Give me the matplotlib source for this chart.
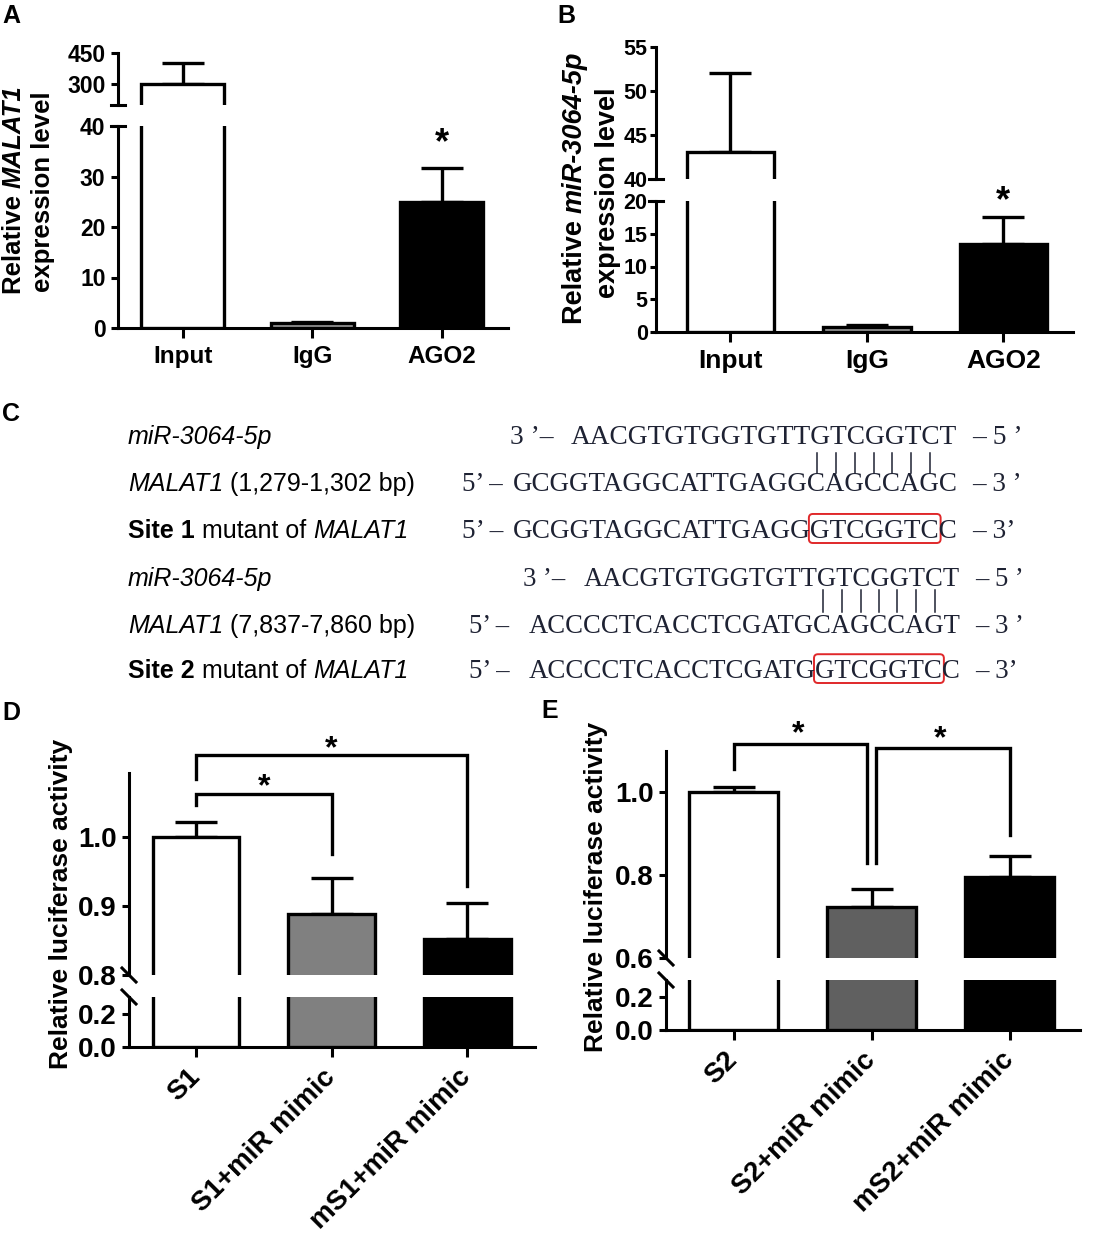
import matplotlib
matplotlib.use('Agg')
import matplotlib.pyplot as plt
import numpy as np
from matplotlib.font_manager import FontProperties
from matplotlib.patches import FancyBboxPatch

W, H = 1099, 1233
plt.rcParams['font.family'] = ['Liberation Sans', 'DejaVu Sans']
plt.rcParams['font.weight'] = 'bold'
plt.rcParams['axes.linewidth'] = 2.2
plt.rcParams['xtick.major.width'] = 2.2
plt.rcParams['ytick.major.width'] = 2.2

# ---- data ----
groups_ab = ['Input', 'IgG', 'AGO2']
malat1_vals = [300, 1.0, 25.0]
malat1_err = [100, 0.2, 6.7]
mir_vals = [43.1, 0.8, 13.5]
mir_err = [9.0, 0.2, 4.1]

groups_d = ['S1', 'S1+miR mimic', 'mS1+miR mimic']
luc_d = [1.0, 0.889, 0.852]
luc_d_err = [0.022, 0.051, 0.053]
groups_e = ['S2', 'S2+miR mimic', 'mS2+miR mimic']
luc_e = [1.0, 0.722, 0.795]
luc_e_err = [0.012, 0.044, 0.051]

mir_seq = 'AACGTGTGGTGTTGTCGGTCT'
site1_wt = 'GCGGTAGGCATTGAGGCAGCCAGC'
site1_mut = 'GCGGTAGGCATTGAGGGTCGGTCC'
site2_wt = 'ACCCCTCACCTCGATGCAGCCAGT'
site2_mut = 'ACCCCTCACCTCGATGGTCGGTCC'
pair_idx = list(range(16, 23))  # bases of MALAT1 paired with the seed

fig = plt.figure(figsize=(W/100, H/100), dpi=100)
bg = fig.add_axes([0, 0, 1, 1], zorder=-1)
bg.set_xlim(0, W)
bg.set_ylim(H, 0)
bg.axis('off')
R = fig.canvas.get_renderer()


def box(x0, y0, x1, y1):
    return fig.add_axes([x0/W, 1-y1/H, (x1-x0)/W, (y1-y0)/H])


def fp(size, weight='normal', style='normal', family='Liberation Sans'):
    return dict(fontsize=size, fontweight=weight, fontstyle=style, family=family)


def width(s, p):
    f = FontProperties(family=p['family'], size=p['fontsize'],
                       weight=p['fontweight'], style=p['fontstyle'])
    a = R.get_text_width_height_descent(s + '|', f, ismath=False)[0]
    b = R.get_text_width_height_descent('|', f, ismath=False)[0]
    return a - b


def rich(x, y, pieces, rot=False, center=False, color='k'):
    total = sum(width(s, p) for s, p in pieces)
    if rot:
        pos = y + total/2 if center else y
    else:
        pos = x - total/2 if center else x
    for s, p in pieces:
        if rot:
            bg.text(x, pos, s, rotation=90, rotation_mode='anchor', ha='left',
                    va='baseline', color=color, **p)
            pos -= width(s, p)
        else:
            bg.text(pos, y, s, ha='left', va='baseline', color=color, **p)
            pos += width(s, p)


def broken(x0, x1, hi_px, lo_px, hi_lim, lo_lim, hi_ticks, lo_ticks, xlim,
           vals, errs, colors, cap, tfs, fmt='{:g}', tlen=5, tpad=4):
    hi = box(x0, hi_px[0], x1, hi_px[1])
    lo = box(x0, lo_px[0], x1, lo_px[1])
    xs = np.arange(len(vals))
    for ax in (hi, lo):
        ax.bar(xs, vals, 0.64, color=colors, edgecolor='k', lw=2.4, zorder=3)
        ax.errorbar(xs, vals, yerr=[np.zeros(len(vals)), errs], fmt='none',
                    ecolor='k', elinewidth=2.4, capsize=cap, capthick=2.4, zorder=2)
        ax.set_xlim(*xlim)
        for s in ('top', 'right'):
            ax.spines[s].set_visible(False)
        ax.patch.set_visible(False)
        ax.tick_params(axis='y', length=tlen, pad=tpad, labelsize=tfs)
    hi.set_ylim(*hi_lim)
    lo.set_ylim(*lo_lim)
    hi.set_yticks(hi_ticks, [fmt.format(t) for t in hi_ticks])
    lo.set_yticks(lo_ticks, [fmt.format(t) for t in lo_ticks])
    hi.spines['bottom'].set_visible(False)
    hi.tick_params(axis='x', bottom=False, labelbottom=False)
    lo.tick_params(axis='x', length=7, pad=5)
    return hi, lo


def star(ax, x, y, fs):
    ax.annotate('*', (x, y), xytext=(0, -0.58*fs), textcoords='offset points',
                ha='center', va='baseline', fontsize=fs, fontweight='bold',
                annotation_clip=False)


def bracket(ax, xa, xb, ytop, ya, yb):
    ax.plot([xa, xa, xb, xb], [ya, ytop, ytop, yb], color='k', lw=2.4,
            clip_on=False, solid_joinstyle='miter')


def flat_break(x, ys):
    for y in ys:
        bg.plot([x-7, x+7], [y, y], color='k', lw=2.2)


def slash_break(x, ys):
    for y in ys:
        bg.plot([x-7, x+7], [y-7, y+7], color='k', lw=2.2)


# ---- panel A ----
hiA, loA = broken(118, 508, (53, 105), (126, 328), (200, 450), (0, 40),
                  [300, 450], [0, 10, 20, 30, 40], (-0.5, 2.51),
                  malat1_vals, malat1_err, ['white', '#9a9a9a', 'black'], 15, 16.5)
loA.set_xticks(range(3), groups_ab, fontsize=17.5)
flat_break(118, [105, 126])
star(loA, 2, 38.8, 26)
rich(21, 190, [('Relative ', fp(18.5, 'bold')), ('MALAT1', fp(18.5, 'bold', 'italic'))],
     rot=True, center=True)
rich(50, 192, [('expression level', fp(18.5, 'bold'))], rot=True, center=True)

# ---- panel B ----
hiB, loB = broken(656, 1073, (47, 179), (201, 332), (40, 55), (0, 20),
                  [40, 45, 50, 55], [0, 5, 10, 15, 20], (-0.545, 2.51),
                  mir_vals, mir_err, ['white', '#9a9a9a', 'black'], 15, 15.5,
                  tlen=4, tpad=2)
loB.set_xticks(range(3), groups_ab, fontsize=19)
flat_break(656, [179, 201])
star(loB, 2, 21.7, 26)
rich(582, 188, [('Relative ', fp(19.5, 'bold')), ('miR-3064-5p', fp(19.5, 'bold', 'italic'))],
     rot=True, center=True)
rich(615, 193, [('expression level', fp(19.5, 'bold'))], rot=True, center=True)

# ---- panel D ----
hiD, loD = broken(129, 535, (773, 975), (997, 1047), (0.8, 1.093), (0, 0.3),
                  [0.8, 0.9, 1.0], [0.0, 0.2], (-0.494, 2.5),
                  luc_d, luc_d_err, ['white', '#808080', 'black'], 15, 20, '{:.1f}')
loD.set_xticks(range(3), groups_d, fontsize=20, rotation=45, ha='right',
               va='center', rotation_mode='anchor')
loD.tick_params(axis='x', pad=12)
slash_break(129, [975, 997])
bracket(hiD, 0, 1, 1.062, 1.046, 0.975)
bracket(hiD, 0, 2, 1.119, 1.084, 0.929)
star(hiD, 0.5, 1.087, 23)
star(hiD, 1.0, 1.142, 23)
rich(68, 904, [('Relative luciferase activity', fp(19, 'bold'))], rot=True, center=True)

# ---- panel E ----
hiE, loE = broken(666, 1080, (751, 958), (980, 1030), (0.6, 1.10), (0, 0.3),
                  [0.6, 0.8, 1.0], [0.0, 0.2], (-0.49, 2.51),
                  luc_e, luc_e_err, ['white', '#606060', 'black'], 15, 20, '{:.1f}')
loE.set_xticks(range(3), groups_e, fontsize=20, rotation=45, ha='right',
               va='center', rotation_mode='anchor')
loE.tick_params(axis='x', pad=12)
slash_break(666, [958, 980])
bracket(hiE, 0, 0.97, 1.117, 1.056, 0.83)
bracket(hiE, 1.03, 2, 1.107, 0.83, 0.898)
star(hiE, 0.47, 1.165, 23)
star(hiE, 1.5, 1.155, 23)
rich(603, 887, [('Relative luciferase activity', fp(19, 'bold'))], rot=True, center=True)

# ---- panel C: sequence alignment ----
lab = 18
rows_y = [444, 491, 538, 586, 633, 678]
left_labels = [
    [('miR-3064-5p', fp(lab, style='italic'))],
    [('MALAT1', fp(lab, style='italic')), (' (1,279-1,302 bp)', fp(lab))],
    [('Site 1', fp(lab, 'bold')), (' mutant of ', fp(lab)), ('MALAT1', fp(lab, style='italic'))],
    [('miR-3064-5p', fp(lab, style='italic'))],
    [('MALAT1', fp(lab, style='italic')), (' (7,837-7,860 bp)', fp(lab))],
    [('Site 2', fp(lab, 'bold')), (' mutant of ', fp(lab)), ('MALAT1', fp(lab, style='italic'))],
]
for y, pcs in zip(rows_y, left_labels):
    rich(128, y, pcs)

seq_rows = [
    # prefix, sequence, suffix, prefix x, seq start, seq end, suffix x
    ('3 \u2019\u2013', mir_seq, '\u2013 5 \u2019', 510, 571, 959, 972),
    ('5\u2019 \u2013', site1_wt, '\u2013 3 \u2019', 462, 513, 959, 972),
    ('5\u2019 \u2013', site1_mut, '\u2013 3\u2019', 462, 513, 959, 972),
    ('3 \u2019\u2013', mir_seq, '\u2013 5 \u2019', 523, 584, 962, 975),
    ('5\u2019 \u2013', site2_wt, '\u2013 3 \u2019', 469, 529, 962, 975),
    ('5\u2019 \u2013', site2_mut, '\u2013 3\u2019', 469, 529, 962, 975),
]
seq_col = '#1e2233'
char_pos = []
for y, (pre, seq, suf, px, sx, ex, fx) in zip(rows_y, seq_rows):
    base = fp(19.5, family='Liberation Serif')
    size = 19.5 * (ex - sx) / width(seq, base)
    p = fp(size, family='Liberation Serif')
    bg.text(px, y, pre, ha='left', va='baseline', color=seq_col, **p)
    bg.text(sx, y, seq, ha='left', va='baseline', color=seq_col, **p)
    bg.text(fx, y, suf, ha='left', va='baseline', color=seq_col, **p)
    lefts = [sx + width(seq[:i], p) for i in range(len(seq))]
    rights = [sx + width(seq[:i+1], p) for i in range(len(seq))]
    char_pos.append((lefts, rights, size))

# complementarity ticks between miRNA and MALAT1 rows
for row, (y0, y1) in ((1, (453, 473)), (4, (590, 612))):
    lefts, rights, _ = char_pos[row]
    for i in pair_idx:
        xc = (lefts[i] + rights[i]) / 2
        bg.plot([xc, xc], [y0, y1], color=seq_col, lw=1.1)

# red boxes round the mutated bases
for row in (2, 5):
    lefts, rights, size = char_pos[row]
    xa, xb = lefts[pair_idx[0]] - 2, rights[pair_idx[-1]] + 1
    cap = size * 0.662 * 100 / 72
    ya, yb = rows_y[row] - cap - 6, rows_y[row] + 5
    bg.add_patch(FancyBboxPatch((xa, ya), xb - xa, yb - ya,
                                boxstyle='round,pad=0,rounding_size=4',
                                fill=False, ec='#e0282a', lw=1.4))

# panel letters
for letter, x, y in (('A', 2, 23), ('B', 557, 23), ('C', 2, 421), ('D', 2, 720), ('E', 541, 718)):
    bg.text(x, y, letter, fontsize=18, fontweight='bold', va='baseline', ha='left')

fig.savefig('out.png', dpi=100)
